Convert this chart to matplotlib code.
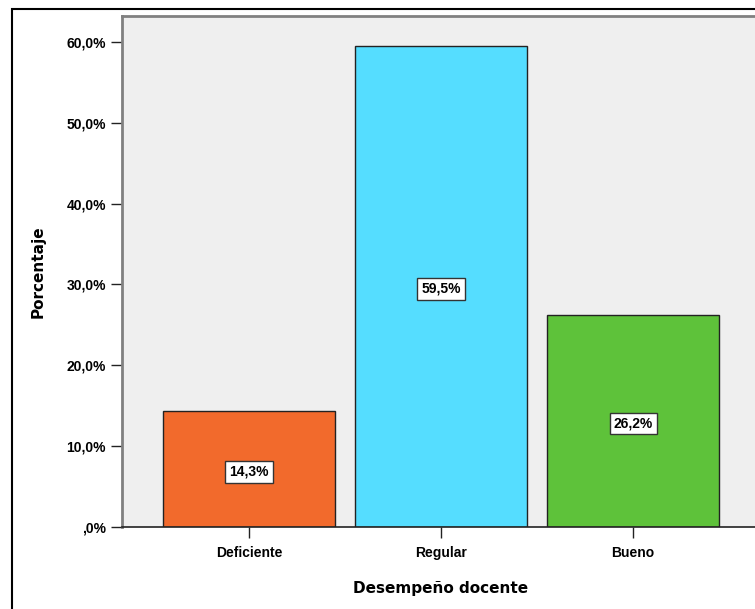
import matplotlib
matplotlib.use("Agg")
import matplotlib.pyplot as plt
from matplotlib.patches import Rectangle
from matplotlib.ticker import FuncFormatter

categorias = ["Deficiente", "Regular", "Bueno"]
porcentajes = [14.3, 59.5, 26.2]
colores = ["#f26a2c", "#55ddff", "#5ec23a"]
yticks = [0, 10, 20, 30, 40, 50, 60]

plt.rcParams["font.family"] = ["Liberation Sans", "DejaVu Sans"]

fig = plt.figure(figsize=(7.55, 6.09), dpi=100)
ax = fig.add_axes([122 / 755, 82 / 609, 638 / 755, 511 / 609])
ax.set_facecolor("#efefef")

x = range(len(categorias))
ax.bar(x, porcentajes, width=0.896, color=colores, edgecolor="#222222",
       linewidth=1.0, zorder=2)

for xi, v in zip(x, porcentajes):
    etiqueta = f"{v:.1f}%".replace(".", ",")
    ax.text(xi, v / 2 - 0.3, etiqueta, ha="center", va="center", fontsize=10,
            fontweight="bold", zorder=3,
            bbox=dict(boxstyle="square,pad=0.28", facecolor="white",
                      edgecolor="#333333", linewidth=1.0))

ax.set_xlim(-0.661, 2.661)
ax.set_ylim(0, 63.2)
ax.set_yticks(yticks)


def fmt(v, pos):
    s = f"{v:.1f}%".replace(".", ",")
    return s[1:] if s.startswith("0,") else s


ax.yaxis.set_major_formatter(FuncFormatter(fmt))
ax.set_xticks(list(x))
ax.set_xticklabels(categorias)
ax.tick_params(axis="both", labelsize=10, length=8, width=1.0,
               color="#222222")
ax.tick_params(axis="x", pad=6)
for lbl in ax.get_xticklabels() + ax.get_yticklabels():
    lbl.set_fontweight("bold")

for side in ["top", "left"]:
    ax.spines[side].set_color("#808080")
    ax.spines[side].set_linewidth(2.0)
ax.spines["bottom"].set_color("#222222")
ax.spines["bottom"].set_linewidth(1.2)
ax.spines["right"].set_visible(False)

ax.set_ylabel("Porcentaje", fontsize=11, fontweight="bold",
              family=["DejaVu Sans"], labelpad=15)
ax.set_xlabel("Desempeño docente", fontsize=11, fontweight="bold",
              family=["DejaVu Sans"], labelpad=15)

# marco exterior
fig.patches.append(Rectangle((12 / 755, -0.05), 1.1, 600 / 609 + 0.05,
                             transform=fig.transFigure, fill=False,
                             edgecolor="black", linewidth=1.5))

fig.savefig("out.png", dpi=100)
